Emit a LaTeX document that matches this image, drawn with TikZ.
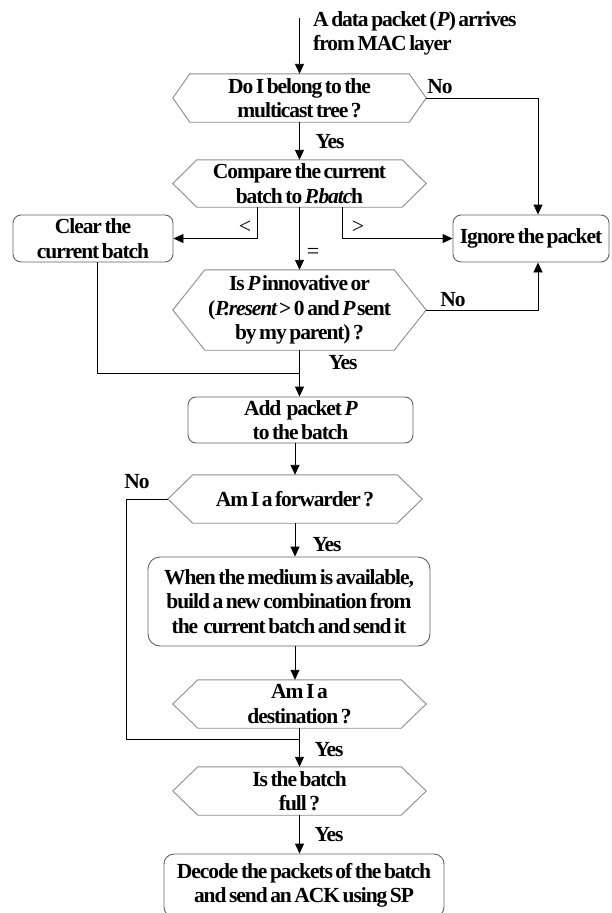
\documentclass[tikz,border=0pt]{standalone}
\usepackage{fontspec}
\setmainfont[LetterSpace=-5,WordSpace=0.6]{Liberation Serif}
\usetikzlibrary{arrows.meta}

\definecolor{hexgray}{gray}{0.55}
\definecolor{boxgray}{gray}{0.38}

% outline of a decision node: a hexagon whose side points sit at the
% node's west/east anchors, the slanted edges being #2 wide
\newcommand\hexoutline[2]{%
  \draw[hexline] (#1.west) -- ([xshift=#2]#1.north west)
    -- ([xshift=-#2]#1.north east) -- (#1.east)
    -- ([xshift=-#2]#1.south east) -- ([xshift=#2]#1.south west) -- cycle;}

\begin{document}
\begin{tikzpicture}[x=1pt,y=-1pt,
  every node/.style={font=\bfseries\fontsize{21.5}{24.5}\selectfont,
    inner sep=0pt, align=center},
  decision/.style={rectangle, minimum width=253pt, minimum height=#1},
  process/.style={rectangle, rounded corners=8pt, draw=boxgray,
    line width=0.9pt},
  hexline/.style={draw=hexgray, line width=0.9pt},
  flow/.style={draw=black, line width=0.9pt,
    -{Triangle[length=10pt,width=9pt]}},
  line/.style={draw=black, line width=0.9pt},
  relation/.style={font=\mdseries\fontsize{22}{24.5}\selectfont}]

\useasboundingbox (0,0) rectangle (611,913);
\clip (0,0) rectangle (611,913);
\fill[white] (0,0) rectangle (611,913);

% ---- decisions ----
\node[decision=48pt] (h1) at (299.5,98) {Do I belong to the\\multicast tree ?};
\node[decision=47pt] (h2) at (299.5,183.5) {Compare the current\\batch to \textit{P.batc}h};
\node[decision=80pt] (h3) at (299.5,310) {Is \textit{P} innovative or\\(\textit{P.resent} > 0 and \textit{P} sent\\by my parent) ?};
\node[decision=48pt, minimum width=254pt] (h4) at (295,499) {Am I a forwarder ?};
\node[decision=48pt] (h5) at (299.5,704) {Am I a\\destination ?};
\node[decision=48pt] (h6) at (299.5,791) {Is the batch\\full ?};

\hexoutline{h1}{17pt}
\hexoutline{h2}{24pt}
\hexoutline{h3}{32pt}
\hexoutline{h4}{25pt}
\hexoutline{h5}{25pt}
\hexoutline{h6}{25pt}

% ---- actions ----
\node[process, minimum width=160pt, minimum height=47pt] (clear) at (93,238.5) {Clear the\\current batch};
\node[process, minimum width=156pt, minimum height=47pt] (ignore) at (531,238.5) {Ignore the packet};
\node[process, minimum width=225pt, minimum height=46pt] (add) at (300.5,420) {Add \ packet \textit{P}\\to the batch};
\node[process, rounded corners=12pt, minimum width=282pt, minimum height=89pt] (send) at (289,601.5) {When the medium is available,\\build a new combination from\\the \ current batch and send it};
\node[process, rounded corners=10pt, minimum width=280pt, minimum height=63pt] (decode) at (304,885.5) {Decode the packets of the batch\\and send an ACK using SP};

% ---- entry text ----
\node[anchor=west, align=left] (arrival) at (313,33.5) {A data packet (\textit{P}) arrives\\from MAC layer};
\coordinate (entry) at (299.5,18);

% ---- connectors ----
\draw[flow] (entry) -- (h1.north);
\draw[flow] (h1.east) -| ([xshift=7pt]ignore.north);
\draw[flow] (h1.south) -- (h2.north);
\draw[flow] ([xshift=-42.5pt]h2.south) |- (clear.east);
\draw[flow] ([xshift=42.5pt]h2.south) |- (ignore.west);
\draw[flow] (h2.south) -- (h3.north);
\draw[flow] (h3.east) -| ([xshift=7pt]ignore.south);
\draw[flow] (h3.south) -- (h3.south |- add.north);
\coordinate (merge) at (299.5,373);
\draw[line] ([xshift=4pt]clear.south) |- (merge);
\draw[flow] (h4.north |- add.south) -- (h4.north);
\draw[flow] (h4.south) -- (h4.south |- send.north);
\draw[flow] (h4.south |- send.south) -- (h4.south |- h5.north);
\coordinate (bypass) at (126,739);
\coordinate (rejoin) at (299.5,739);
\draw[line] (h4.west) -| (bypass) -- (rejoin);
\draw[flow] (h5.south) -- (h6.north);
\draw[flow] (h6.south) -- (h6.south |- decode.north);

% ---- branch labels ----
\node (l1no) at (440,87) {No};
\node (l1yes) at (330,142) {Yes};
\node[relation] (lless) at (245,227) {<};
\node[relation] (lmore) at (358,227) {>};
\node[relation] (leq) at (313,253) {=};
\node (l3no) at (453,300) {No};
\node (l3yes) at (343,363) {Yes};
\node (l4no) at (137,482) {No};
\node (l4yes) at (327,545) {Yes};
\node (l5yes) at (329,750) {Yes};
\node (l6yes) at (329,835) {Yes};
\end{tikzpicture}
\end{document}
